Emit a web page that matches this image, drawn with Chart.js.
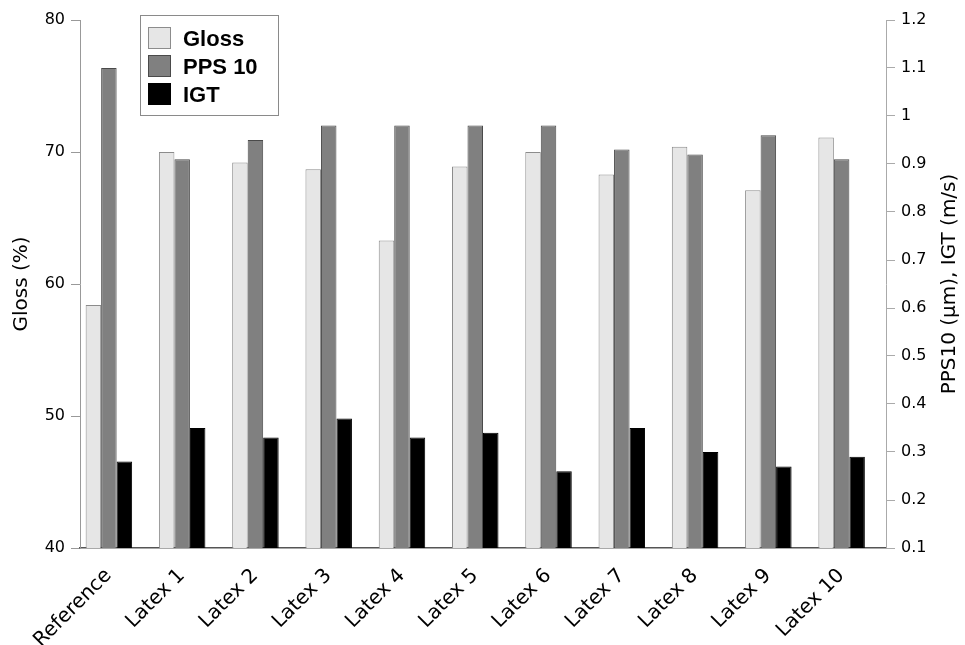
<!DOCTYPE html>
<html>
<head>
<meta charset="utf-8">
<script src="https://cdn.jsdelivr.net/npm/chart.js@4.4.1/dist/chart.umd.min.js"></script>
<style>
  html, body { margin: 0; padding: 0; background: #fff; }
  #wrap { width: 965px; height: 645px; }
</style>
</head>
<body>
<div id="wrap"><canvas id="chart" width="965" height="645"></canvas></div>
<script>
// values
const categories = ['Reference', 'Latex 1', 'Latex 2', 'Latex 3', 'Latex 4', 'Latex 5',
                    'Latex 6', 'Latex 7', 'Latex 8', 'Latex 9', 'Latex 10'];
const gloss = [58.4, 70.0, 69.2, 68.7, 63.3, 68.9, 70.0, 68.3, 70.4, 67.1, 71.1];
const pps10 = [1.10, 0.91, 0.95, 0.98, 0.98, 0.98, 0.98, 0.93, 0.92, 0.96, 0.91];
const igt = [0.28, 0.35, 0.33, 0.37, 0.33, 0.34, 0.26, 0.35, 0.30, 0.27, 0.29];
const spacer = categories.map(() => null); // empty slot that pushes the groups left

const glossTicks = [40, 50, 60, 70, 80];
const rightTicks = [0.1, 0.2, 0.3, 0.4, 0.5, 0.6, 0.7, 0.8, 0.9, 1.0, 1.1, 1.2];
const rightTitle = 'PPS10 (µm), IGT (m/s)';

const FONT = '"DejaVu Sans", Verdana, sans-serif';

// legend drawn as a floating box inside the plot, like the original
const boxLegend = {
    id: 'boxLegend',
    afterDraw(chart) {
        const ctx = chart.ctx;
        const items = chart.data.datasets.filter(d => d.label);
        ctx.save();
        ctx.strokeStyle = '#8a8a8a';
        ctx.lineWidth = 1;
        ctx.fillStyle = '#fff';
        ctx.fillRect(140.5, 15.5, 138, 100);
        ctx.strokeRect(140.5, 15.5, 138, 100);
        ctx.font = 'bold 22px "Liberation Sans", Arial, sans-serif';
        ctx.textBaseline = 'alphabetic';
        items.forEach((ds, i) => {
            const y = 27 + i * 28;
            ctx.fillStyle = ds.backgroundColor;
            ctx.fillRect(148.5, y + 0.5, 22, 21);
            ctx.strokeStyle = ds.borderColor;
            ctx.strokeRect(148.5, y + 0.5, 22, 21);
            ctx.fillStyle = '#000';
            ctx.fillText(ds.label, 183, y + 19);
        });
        ctx.restore();
    }
};

// right axis title reads bottom-to-top in the original, Chart.js turns it the other way
const rightAxisTitle = {
    id: 'rightAxisTitle',
    afterDraw(chart) {
        const ctx = chart.ctx;
        const area = chart.chartArea;
        ctx.save();
        ctx.translate(950, (area.top + area.bottom) / 2);
        ctx.rotate(-Math.PI / 2);
        ctx.font = '20px ' + FONT;
        ctx.fillStyle = '#000';
        ctx.textAlign = 'center';
        ctx.textBaseline = 'middle';
        ctx.fillText(rightTitle, 0, 0);
        ctx.restore();
    }
};

new Chart(document.getElementById('chart'), {
    type: 'bar',
    data: {
        labels: categories,
        datasets: [
            { label: 'Gloss', data: gloss, yAxisID: 'y',
              backgroundColor: '#e6e6e6', borderColor: '#8c8c8c', borderWidth: 1 },
            { label: 'PPS 10', data: pps10, yAxisID: 'y1',
              backgroundColor: '#808080', borderColor: '#4a4a4a', borderWidth: 1 },
            { label: 'IGT', data: igt, yAxisID: 'y1',
              backgroundColor: '#000000', borderColor: '#000000', borderWidth: 1 },
            { label: '', data: spacer, yAxisID: 'y1',
              backgroundColor: 'rgba(0,0,0,0)', borderWidth: 0 }
        ]
    },
    options: {
        responsive: false,
        animation: false,
        devicePixelRatio: 1,
        categoryPercentage: 0.846,
        barPercentage: 1.0,
        layout: { padding: { top: 20, left: 0, right: 0, bottom: 0 } },
        plugins: {
            legend: { display: false },
            tooltip: { enabled: false }
        },
        scales: {
            x: {
                grid: { display: false },
                border: { display: true, color: '#555', width: 1.5 },
                ticks: {
                    color: '#000',
                    font: { family: FONT, size: 20 },
                    maxRotation: 45,
                    minRotation: 45,
                    autoSkip: false,
                    padding: 8,
                    labelOffset: -8
                },
                afterFit(scale) { scale.height = 97; }
            },
            y: {
                position: 'left',
                min: 40,
                max: 80,
                afterBuildTicks(scale) { scale.ticks = glossTicks.map(v => ({ value: v })); },
                grid: { drawOnChartArea: false, color: '#999', tickLength: 9 },
                border: { display: true, color: '#999' },
                ticks: {
                    color: '#000',
                    padding: 6,
                    font: { family: FONT, size: 16 }
                },
                title: {
                    display: true,
                    text: 'Gloss (%)',
                    color: '#000',
                    font: { family: FONT, size: 20 },
                    padding: { top: 10, bottom: 0 }
                },
                afterFit(scale) { scale.width = 80; }
            },
            y1: {
                position: 'right',
                min: 0.1,
                max: 1.2,
                afterBuildTicks(scale) { scale.ticks = rightTicks.map(v => ({ value: v })); },
                grid: { drawOnChartArea: false, color: '#aaa', tickLength: 9 },
                border: { display: true, color: '#aaa' },
                ticks: {
                    color: '#000',
                    padding: 6,
                    font: { family: FONT, size: 16 },
                    callback: v => String(Number(v.toFixed(1)))
                },
                afterFit(scale) { scale.width = 79; }
            }
        }
    },
    plugins: [boxLegend, rightAxisTitle]
});
</script>
</body>
</html>
